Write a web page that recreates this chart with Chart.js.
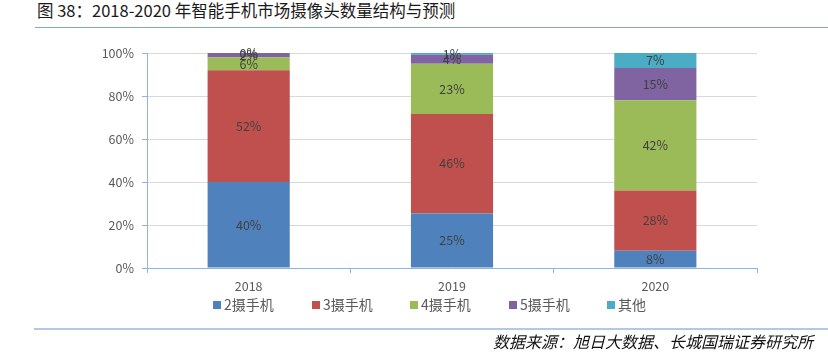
<!DOCTYPE html>
<html>
<head>
<meta charset="utf-8">
<script src="https://cdn.jsdelivr.net/npm/chart.js@4/dist/chart.umd.min.js"></script>
<style>
  html, body { margin: 0; padding: 0; background: #fff; }
  #wrap { position: relative; width: 828px; height: 352px; overflow: hidden; font-family: "Noto Sans CJK SC", "Noto Sans", sans-serif; }
  #title { position: absolute; left: 37px; top: 0px; font-size: 16.5px; color: #1a1a1a; white-space: nowrap; line-height: 20px; }
  #topline { position: absolute; left: 35px; top: 27px; width: 793px; height: 1px; background: #7FA7D9; }
  #botline { position: absolute; left: 34px; top: 328px; width: 794px; height: 2px; background: #B4C7E7; }
  #source { position: absolute; left: 493px; top: 331px; font-size: 16px; font-style: italic; color: #111; white-space: nowrap; line-height: 20px; }
  canvas { position: absolute; left: 0; top: 0; }
</style>
</head>
<body>
<div id="wrap">
  <div id="title">图 38：2018-2020 年智能手机市场摄像头数量结构与预测</div>
  <div id="topline"></div>
  <canvas id="c" width="828" height="352"></canvas>
  <div id="botline"></div>
  <div id="source">数据来源：旭日大数据、长城国瑞证券研究所</div>
</div>
<script>
const categories = ["2018", "2019", "2020"];
const seriesNames = ["2摄手机", "3摄手机", "4摄手机", "5摄手机", "其他"];
const cam2 = [40, 25.4, 8];
const cam3 = [52, 46.2, 28];
const cam4 = [6, 23.4, 42];
const cam5 = [2, 4.2, 15];
const others = [0, 0.8, 7];
const yTicks = [0, 20, 40, 60, 80, 100];
const colors = ["#4F81BD", "#C0504D", "#9BBB59", "#8064A2", "#4BACC6"];

const seriesData = [cam2, cam3, cam4, cam5, others];
const FONT = '"Noto Sans CJK SC", "Noto Sans", sans-serif';

const labelPlugin = {
  id: 'barLabels',
  afterDatasetsDraw(chart) {
    const ctx = chart.ctx;
    ctx.save();
    ctx.font = '12.5px ' + FONT;
    ctx.fillStyle = '#404040';
    ctx.textAlign = 'center';
    ctx.textBaseline = 'middle';
    chart.data.datasets.forEach((ds, i) => {
      const meta = chart.getDatasetMeta(i);
      meta.data.forEach((el, j) => {
        const v = ds.data[j];
        const p = el.getProps(['x', 'y', 'base'], true);
        const cy = (p.y + p.base) / 2;
        ctx.fillText(Math.round(v) + '%', p.x, cy);
      });
    });
    ctx.restore();
  }
};

const legendPlugin = {
  id: 'customLegend',
  afterDraw(chart) {
    const ctx = chart.ctx;
    const startX = 213, pitch = 98.5, cy = 305;
    ctx.save();
    ctx.font = '14px ' + FONT;
    ctx.textBaseline = 'middle';
    ctx.textAlign = 'left';
    chart.data.datasets.forEach((ds, i) => {
      const x = Math.round(startX + i * pitch);
      ctx.fillStyle = ds.backgroundColor;
      ctx.fillRect(x, cy - 4, 8, 8);
      ctx.fillStyle = '#595959';
      ctx.fillText(ds.label, x + 11, cy);
    });
    ctx.restore();
  }
};

const blue = '#8EB4E3';
new Chart(document.getElementById('c'), {
  type: 'bar',
  data: {
    labels: categories,
    datasets: seriesData.map((d, i) => ({
      label: seriesNames[i],
      data: d,
      backgroundColor: colors[i],
      borderWidth: 0,
      barPercentage: 1,
      categoryPercentage: 0.404
    }))
  },
  options: {
    responsive: false,
    animation: false,
    layout: { padding: { left: 103, right: 71, top: 53, bottom: 56 } },
    plugins: {
      tooltip: { enabled: false },
      legend: { display: false }
    },
    scales: {
      x: {
        stacked: true,
        grid: { drawOnChartArea: false, drawTicks: true, tickLength: 5, tickColor: blue, offset: true },
        border: { color: blue, width: 1 },
        ticks: { color: '#595959', padding: 6, autoSkip: false, maxRotation: 0, font: { size: 12.5, family: FONT } },
        afterFit(s) { s.height = 28; }
      },
      y: {
        stacked: true,
        min: 0, max: 100,
        afterBuildTicks(s) { s.ticks = yTicks.map(v => ({ value: v })); },
        grid: { color: '#D9D9D9', tickColor: blue, tickLength: 5 },
        border: { color: blue, width: 1 },
        ticks: { color: '#595959', padding: 8, callback: v => v + '%', font: { size: 12.5, family: FONT } },
        afterFit(s) { s.width = 44; }
      }
    }
  },
  plugins: [labelPlugin, legendPlugin]
});
</script>
</body>
</html>
